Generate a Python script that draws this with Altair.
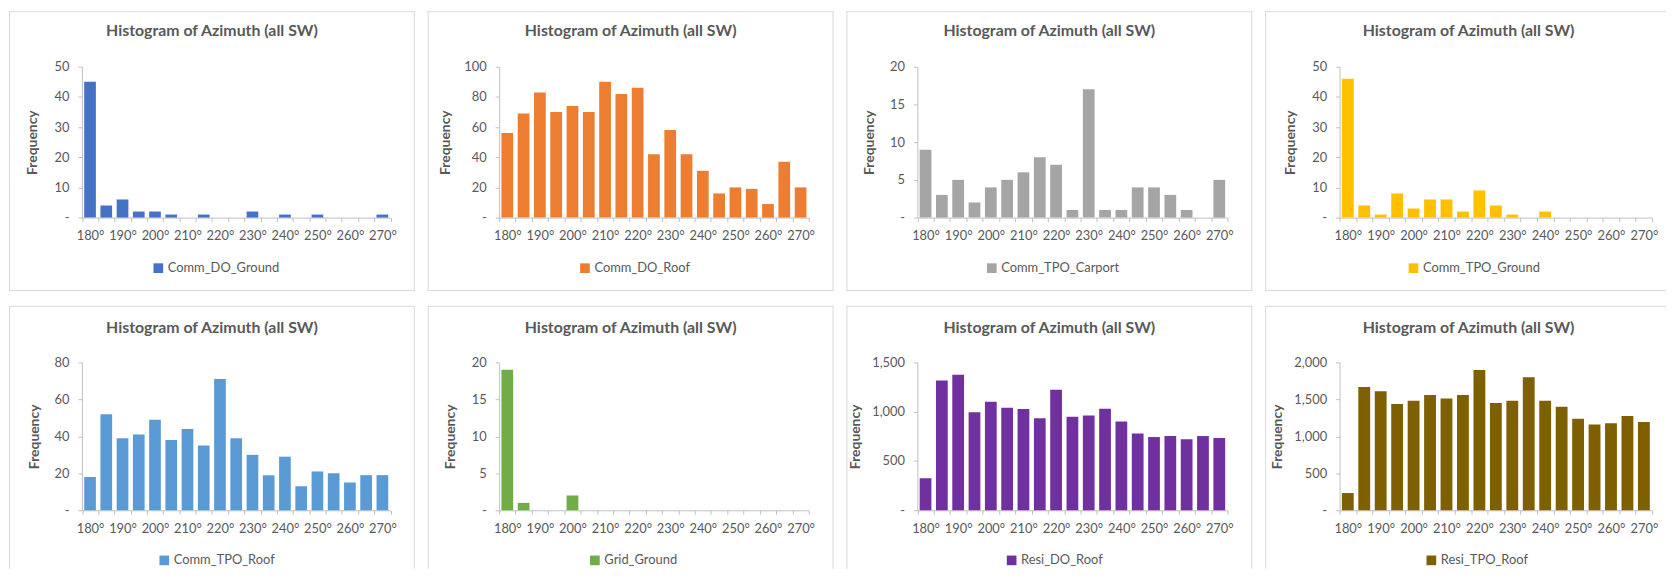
import altair as alt
import pandas as pd

# ---------------- data ----------------
azimuths = [180, 185, 190, 195, 200, 205, 210, 215, 220, 225,
            230, 235, 240, 245, 250, 255, 260, 265, 270]

comm_do_ground = [45, 4, 6, 2, 2, 1, 0, 1, 0, 0, 2, 0, 1, 0, 1, 0, 0, 0, 1]
comm_do_roof = [56, 69, 83, 70, 74, 70, 90, 82, 86, 42, 58, 42, 31, 16, 20, 19, 9, 37, 20]
comm_tpo_carport = [9, 3, 5, 2, 4, 5, 6, 8, 7, 1, 17, 1, 1, 4, 4, 3, 1, 0, 5]
comm_tpo_ground = [46, 4, 1, 8, 3, 6, 6, 2, 9, 4, 1, 0, 2, 0, 0, 0, 0, 0, 0]
comm_tpo_roof = [18, 52, 39, 41, 49, 38, 44, 35, 71, 39, 30, 19, 29, 13, 21, 20, 15, 19, 19]
grid_ground = [19, 1, 0, 0, 2, 0, 0, 0, 0, 0, 0, 0, 0, 0, 0, 0, 0, 0, 0]
resi_do_roof = [325, 1316, 1376, 994, 1102, 1041, 1028, 934, 1222, 948,
                961, 1031, 901, 780, 743, 753, 720, 753, 733]
resi_tpo_roof = [233, 1669, 1611, 1436, 1481, 1561, 1512, 1561, 1897, 1450,
                 1481, 1799, 1481, 1400, 1239, 1159, 1177, 1275, 1195]

series_names = ["Comm_DO_Ground", "Comm_DO_Roof", "Comm_TPO_Carport", "Comm_TPO_Ground",
                "Comm_TPO_Roof", "Grid_Ground", "Resi_DO_Roof", "Resi_TPO_Roof"]
series_values = [comm_do_ground, comm_do_roof, comm_tpo_carport, comm_tpo_ground,
                 comm_tpo_roof, grid_ground, resi_do_roof, resi_tpo_roof]
y_max = [50, 100, 20, 50, 80, 20, 1500, 2000]
y_ticks = [[0, 10, 20, 30, 40, 50], [0, 20, 40, 60, 80, 100], [0, 5, 10, 15, 20],
           [0, 10, 20, 30, 40, 50], [0, 20, 40, 60, 80], [0, 5, 10, 15, 20],
           [0, 500, 1000, 1500], [0, 500, 1000, 1500, 2000]]
chart_title = "Histogram of Azimuth (all SW)"
y_title = "Frequency"

# ---------------- styling / layout ----------------
colors = ["#4472C4", "#ED7D31", "#A5A5A5", "#FFC000",
          "#5B9BD5", "#70AD47", "#7030A0", "#7F6000"]
FONT = "Lato"
TEXT = "#595959"
AXIS_LINE = "#BFBFBF"
BORDER = "#D9D9D9"
TITLE_SIZE = 16

col_width = [409, 409, 409, 404]
col_plot_x = [(73.5, 384.5), (72, 384), (71.5, 384), (75, 390)]
col_title_dx = [0, 0, 0, 3]
rows = [
    dict(h=282, top=56, bottom=208, title_y=22, legend_y=259.5, bottom_border=True),
    dict(h=265, top=57, bottom=206, title_y=24, legend_y=257, bottom_border=False),
]
legend_x = [144, 152, 140, 143, 150, 162, 160, 161]
ytitle_dist = [49.5, 54, 48, 49, 48, 49, 62, 63]

one_row = pd.DataFrame({"k": [0]})


def rule(x, x2, y, y2):
    return alt.Chart(one_row).mark_rule(color=BORDER, strokeWidth=1).encode(
        x=alt.value(x), x2=alt.value(x2), y=alt.value(y), y2=alt.value(y2)
    )


def panel(i):
    r = rows[i // 4]
    c = i % 4
    W = col_width[c]
    H = r["h"]
    x0, x1 = col_plot_x[c]
    name = series_names[i]
    df = pd.DataFrame({"azimuth": azimuths, "count": series_values[i], "series": name})

    bars = alt.Chart(df).mark_bar(width=alt.RelativeBandSize(0.72)).encode(
        x=alt.X(
            "azimuth:O",
            scale=alt.Scale(domain=azimuths, range=[x0, x1], paddingInner=0, paddingOuter=0),
            axis=alt.Axis(
                title=None,
                offset=r["bottom"] - H,
                tickBand="extent",
                labelAngle=0,
                labelExpr="datum.value % 10 == 0 ? datum.value + '°' : ''",
                labelPadding=8,
            ),
        ),
        y=alt.Y(
            "count:Q",
            scale=alt.Scale(domain=[0, y_max[i]], range=[r["bottom"], r["top"]], nice=False),
            axis=alt.Axis(
                title=y_title,
                values=y_ticks[i],
                offset=-x0,
                labelExpr="datum.value == 0 ? '-' : format(datum.value, ',')",
                labelPadding=9,
                titleX=-ytitle_dist[i],
                titleY=(r["top"] + r["bottom"]) / 2,
                titleBaseline="middle",
            ),
        ),
        color=alt.Color(
            "series:N",
            scale=alt.Scale(domain=[name], range=[colors[i]]),
            legend=alt.Legend(
                orient="none",
                legendX=legend_x[i],
                legendY=r["legend_y"] - 7,
                title=None,
                symbolType="square",
                symbolSize=95,
                symbolStrokeWidth=0,
                labelOffset=3,
                padding=0,
            ),
        ),
    )

    layers = [bars,
              rule(0.5, 0.5, 0, H),      # left
              rule(0, W, 0.5, 0.5)]      # top
    if c < 3:
        layers.append(rule(W - 0.5, W - 0.5, 0, H))
    if r["bottom_border"]:
        layers.append(rule(0, W, H - 0.5, H - 0.5))

    return alt.layer(*layers).properties(
        width=W,
        height=H,
        title=alt.Title(
            chart_title,
            anchor="middle",
            frame="group",
            orient="top",
            offset=-(r["title_y"] + 6.4),
            dx=col_title_dx[c],
        ),
    )


row1 = alt.hconcat(*[panel(i) for i in range(4)], spacing=11).resolve_scale(
    color="independent").resolve_legend(color="independent")
row2 = alt.hconcat(*[panel(i) for i in range(4, 8)], spacing=11).resolve_scale(
    color="independent").resolve_legend(color="independent")

chart = (
    alt.vconcat(row1, row2, spacing=13)
    .resolve_scale(color="independent")
    .resolve_legend(color="independent")
    .properties(padding=0)
    .configure_view(stroke="transparent")
    .configure_axis(
        grid=False,
        labelFont=FONT,
        labelFontSize=13,
        labelColor=TEXT,
        domainColor=AXIS_LINE,
        tickColor=AXIS_LINE,
        tickSize=4,
        titleFont=FONT,
        titleFontSize=14,
        titleFontWeight="bold",
        titleColor=TEXT,
    )
    .configure_legend(labelFont=FONT, labelFontSize=13, labelColor=TEXT)
    .configure_title(font=FONT, fontSize=TITLE_SIZE, fontWeight="bold", color=TEXT)
)

chart.save("out.html", embed_options={"renderer": "svg", "actions": False})
